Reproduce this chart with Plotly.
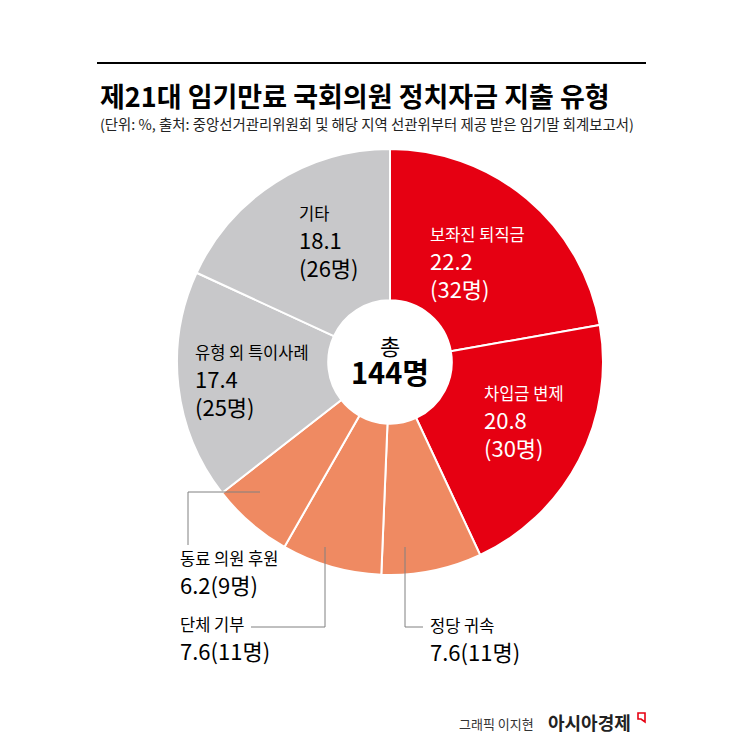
import plotly.graph_objects as go

# ---- data ----
categories = ["보좌진 퇴직금", "차입금 변제", "정당 귀속", "단체 기부", "동료 의원 후원", "유형 외 특이사례", "기타"]
shares = [22.2, 20.8, 7.6, 7.6, 6.2, 17.4, 18.1]
counts = [32, 30, 11, 11, 9, 25, 26]
total = 144

title = "제21대 임기만료 국회의원 정치자금 지출 유형"
subtitle = "(단위: %, 출처: 중앙선거관리위원회 및 해당 지역 선관위부터 제공 받은 임기말 회계보고서)"
credit = "그래픽 이지현"
brand = "아시아경제"

# ---- styles ----
colors = ["#E60012", "#E60012", "#EF8A62", "#EF8A62", "#EF8A62", "#C8C8CA", "#C8C8CA"]
FONT = "Noto Sans CJK KR"
W = H = 745
OFF = 8  # page body margin

# label block layout: (x, y_center, lines, text colour)
label_pos = [
    (428, 263, 3, "white"),
    (482, 422, 3, "white"),
    (428, 640, 2, "black"),
    (178, 639, 2, "black"),
    (178, 573, 2, "black"),
    (193, 381, 3, "black"),
    (297, 242, 3, "black"),
]

fig = go.Figure()
cx, cy, r = 390, 362, 213
fx, fy = cx - OFF, cy - OFF
fig.add_trace(go.Pie(
    labels=categories, values=shares, sort=False, direction="clockwise", rotation=0,
    hole=0.29, marker=dict(colors=colors, line=dict(color="white", width=2)),
    textinfo="none", hoverinfo="skip", showlegend=False,
    domain=dict(x=[(fx - r) / W, (fx + r) / W], y=[1 - (fy + r) / H, 1 - (fy - r) / H]),
))

ann = []
def txt(x, y, s, size, color="black", bold=False, xanchor="left", align="left"):
    ann.append(dict(x=x, y=y, xref="x", yref="y", text=(f"<b>{s}</b>" if bold else s),
                    showarrow=False, xanchor=xanchor, yanchor="middle", align=align,
                    font=dict(family=FONT, size=size, color=color)))

for i, (cat, v, c) in enumerate(zip(categories, shares, counts)):
    x, yc, n, col = label_pos[i]
    head = f'<span style="font-size:16.5px">{cat}</span>'
    if n == 3:
        s = f"{head}<br>{v}<br>({c}명)"
    else:
        s = f"{head}<br>{v}({c}명)"
    txt(x, yc, s, 22, col)

# center
txt(cx, 360, f'총<br><span style="font-size:29px"><b>{total}명</b></span>', 22,
    xanchor="center", align="center")

# title
txt(98, 95, title, 27, bold=True)
txt(98, 123, subtitle, 14.4, color="#222222")

# footer
txt(457, 723, credit, 13, color="#333333")
txt(546, 722, brand, 18, color="#222222", bold=True)

shapes = [
    dict(type="line", x0=97, x1=646, y0=63, y1=63, line=dict(color="black", width=2), xref="x", yref="y"),
    # leader lines
    dict(type="path", path="M 260 492 L 188 492 L 188 545", line=dict(color="#808080", width=1), xref="x", yref="y"),
    dict(type="path", path="M 325 547 L 325 627 L 251 627", line=dict(color="#808080", width=1), xref="x", yref="y"),
    dict(type="path", path="M 405 547 L 405 627 L 423 627", line=dict(color="#808080", width=1), xref="x", yref="y"),
    # brand mark
    dict(type="path", path="M 638 713 L 645 713 L 645 722 L 641 719 L 638 719 Z",
         line=dict(color="#E60012", width=1.6), xref="x", yref="y"),
]

fig.update_layout(
    width=W, height=H, margin=dict(l=0, r=0, t=0, b=0),
    paper_bgcolor="white", plot_bgcolor="rgba(0,0,0,0)",
    xaxis=dict(range=[OFF, W + OFF], visible=False, fixedrange=True),
    yaxis=dict(range=[H + OFF, OFF], visible=False, fixedrange=True),
    annotations=ann, shapes=shapes,
)
fig.write_html("out.html")
